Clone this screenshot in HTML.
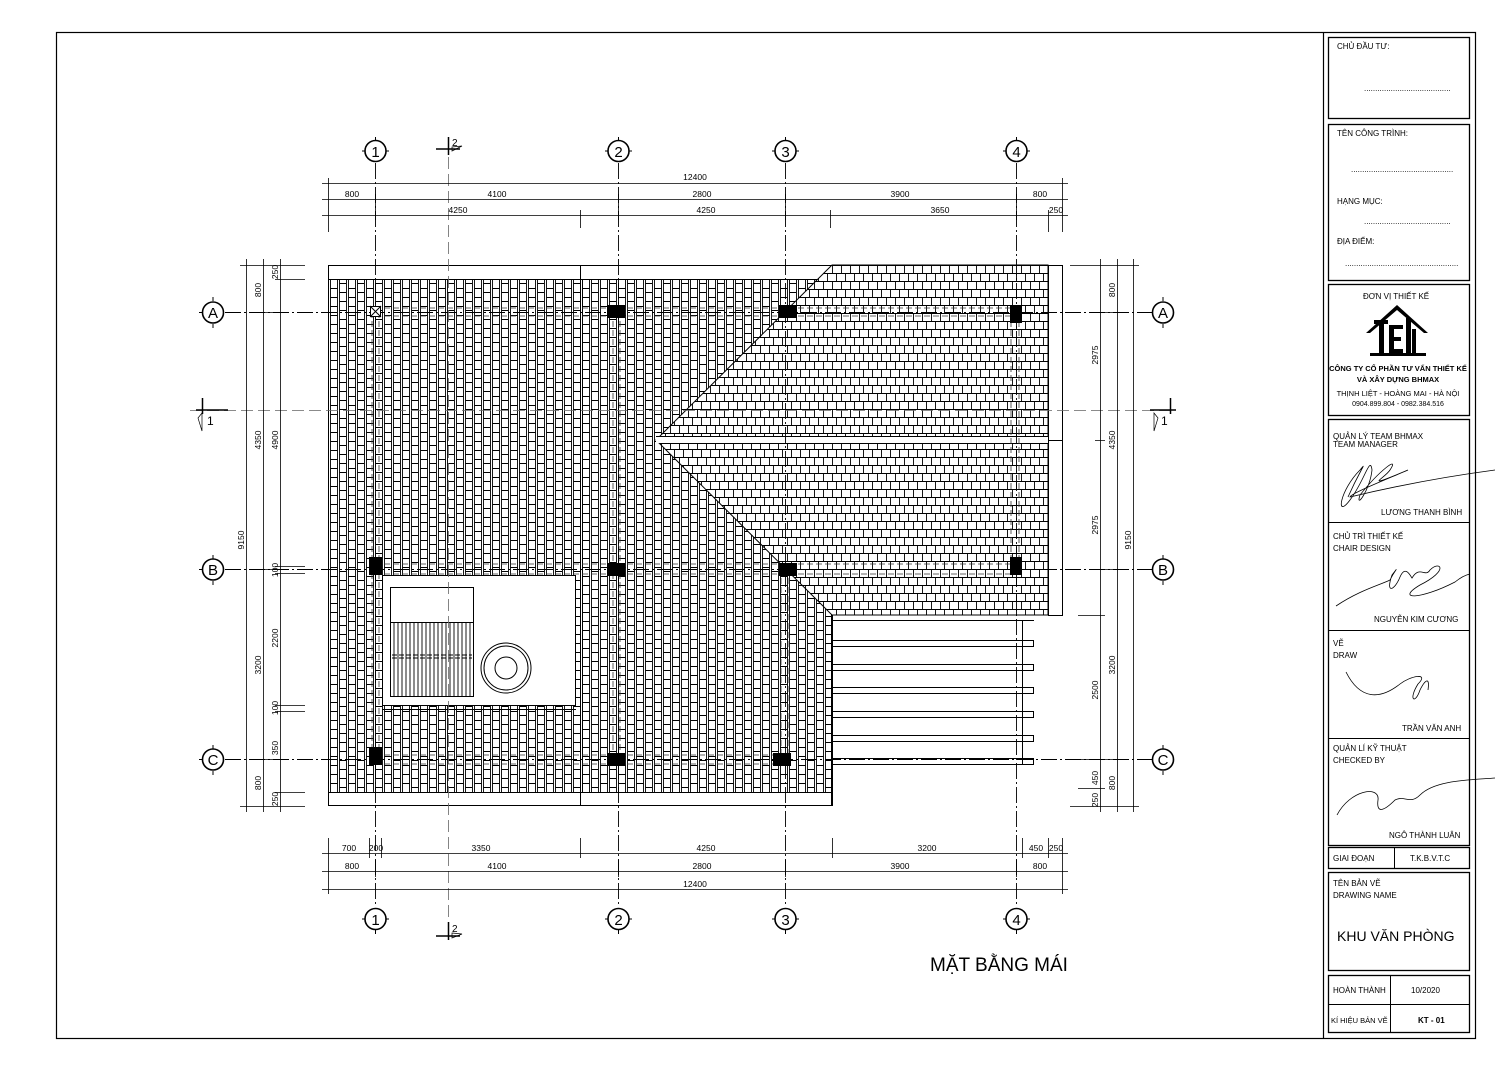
<!DOCTYPE html>
<html><head><meta charset="utf-8"><style>
body{margin:0;background:#fff}
svg{display:block}
text{font-family:"Liberation Sans",sans-serif;fill:#000}
.d{font-size:8.5px}
.tb{font-size:8px}
</style></head><body>
<svg width="1503" height="1073" viewBox="0 0 1503 1073" xmlns="http://www.w3.org/2000/svg">
<defs>
<pattern id="pv" width="18" height="18" patternUnits="userSpaceOnUse" x="328" y="279">
<rect width="18" height="18" fill="#fff"/>
<path d="M0.5 0V18M2.5 0V18M9.5 0V18M11.5 0V18M2.5 0.5H9.5M2.5 9.5H9.5M11.5 4.5H18M11.5 13.5H18" stroke="#000" stroke-width="0.9" fill="none"/>
</pattern>
<pattern id="ph" width="18" height="16" patternUnits="userSpaceOnUse" x="832" y="265">
<rect width="18" height="16" fill="#fff"/>
<path d="M0 0.5H18M0 8.5H18M0.5 0.5V8.5M9.5 0.5V8.5M4.5 8.5V16M13.5 8.5V16" stroke="#000" stroke-width="0.9" fill="none"/>
</pattern>
</defs>

<rect x="56.5" y="32.5" width="1419" height="1006" fill="none" stroke="#000" stroke-width="1.2"/>
<line x1="1323.5" y1="32" x2="1323.5" y2="1039" stroke="#000" stroke-width="1.2"/>

<rect x="328" y="279" width="504" height="513" fill="url(#pv)"/>
<rect x="328.5" y="265.5" width="503" height="540" fill="none" stroke="#000"/>
<line x1="328" y1="279.5" x2="832" y2="279.5" stroke="#000"/>
<line x1="328" y1="792.5" x2="832" y2="792.5" stroke="#000"/>
<line x1="580.5" y1="265" x2="580.5" y2="806" stroke="#000"/>
<line x1="582.5" y1="279" x2="582.5" y2="792" stroke="#000"/>
<rect x="382.5" y="575.5" width="193" height="130" fill="#fff" stroke="#000"/>
<line x1="382" y1="709.5" x2="576" y2="709.5" stroke="#000"/>
<rect x="390.5" y="587.5" width="83" height="35" fill="#fff" stroke="#000"/>
<rect x="390.5" y="622.5" width="83" height="74" fill="#fff" stroke="#000"/>
<g stroke="#000" stroke-width="0.9">
<path d="M394 623V696M398 623V696M402 623V696M406 623V696M410 623V696M414 623V696M418 623V696M422 623V696M426 623V696M430 623V696M434 623V696M438 623V696M442 623V696M446 623V696M450 623V696M454 623V696M458 623V696M462 623V696M466 623V696M470 623V696"/>
<path d="M392 655H472M392 658H472" stroke-dasharray="5 2"/>
</g>
<circle cx="506" cy="668" r="25" fill="none" stroke="#000"/>
<circle cx="506" cy="668" r="22" fill="none" stroke="#000"/>
<circle cx="506" cy="668" r="11" fill="none" stroke="#000"/>

<polygon points="832,265 1048,265 1048,615 832,615 656,440" fill="url(#ph)" stroke="#000"/>
<rect x="656" y="436" width="392" height="7" fill="#fff"/>
<line x1="656" y1="436.5" x2="1048" y2="436.5" stroke="#000"/>
<line x1="660" y1="443.5" x2="1048" y2="443.5" stroke="#000"/>
<rect x="1048.5" y="265.5" width="14" height="350" fill="#fff" stroke="#000"/>
<line x1="1048" y1="440.5" x2="1062" y2="440.5" stroke="#000"/>
<rect x="832" y="616" width="230" height="190" fill="#fff"/>
<line x1="832.5" y1="615" x2="832.5" y2="806" stroke="#000"/>
<line x1="832" y1="620.5" x2="1034" y2="620.5" stroke="#000"/>
<g fill="#fff" stroke="#000">
<rect x="832.5" y="640.5" width="201" height="6"/>
<rect x="832.5" y="664.5" width="201" height="6"/>
<rect x="832.5" y="687.5" width="201" height="6"/>
<rect x="832.5" y="711.5" width="201" height="6"/>
<rect x="832.5" y="735.5" width="201" height="6"/>
<rect x="832.5" y="758.5" width="201" height="6"/>
</g>
<line x1="1022.5" y1="620" x2="1022.5" y2="765" stroke="#000"/>

<g stroke="#000" stroke-width="0.9" stroke-dasharray="16 3 2 3" fill="none">
<path d="M375.5 163V907M618.5 163V907M785.5 163V907M1016.5 163V907"/>
<path d="M225 312.5H1151M225 569.5H1151M225 759.5H1151"/>
</g>
<g stroke="#666" stroke-width="0.8" stroke-dasharray="12 5" fill="none">
<path d="M448.5 140V940M190 410.5H1175"/>
</g>
<g stroke="#333" stroke-width="0.8" stroke-dasharray="6 3" fill="none">
<path d="M372 312V760M379 312V760M613 312V760M620 312V760M781 569V760M789 569V760M1011 312V569M1019 312V569"/>
<path d="M375 308H1016M375 316H1016M375 564H1016M375 574H1016M375 755H785M375 764H785"/>
</g>
<g fill="#000">
<rect x="607" y="305" width="18" height="13"/><rect x="779" y="305" width="18" height="13"/><rect x="1010" y="305" width="12" height="18"/>
<rect x="369" y="557" width="13" height="18"/><rect x="607" y="563" width="18" height="13"/><rect x="779" y="563" width="18" height="13"/><rect x="1010" y="557" width="12" height="18"/>
<rect x="369" y="747" width="13" height="18"/><rect x="607" y="753" width="18" height="13"/><rect x="773" y="753" width="18" height="13"/>
</g>
<rect x="370.5" y="306.5" width="10" height="10" fill="#fff" stroke="#000"/>
<path d="M370 306L381 317M381 306L370 317" stroke="#000"/>

<g stroke="#000" stroke-width="1.6" fill="#fff">
<circle cx="375.5" cy="151" r="10.5"/><circle cx="618.5" cy="151" r="10.5"/><circle cx="785.5" cy="151" r="10.5"/><circle cx="1016.5" cy="151" r="10.5"/>
<circle cx="375.5" cy="919" r="10.5"/><circle cx="618.5" cy="919" r="10.5"/><circle cx="785.5" cy="919" r="10.5"/><circle cx="1016.5" cy="919" r="10.5"/>
<circle cx="213" cy="312.5" r="10.5"/><circle cx="213" cy="569.5" r="10.5"/><circle cx="213" cy="759.5" r="10.5"/>
<circle cx="1163" cy="312.5" r="10.5"/><circle cx="1163" cy="569.5" r="10.5"/><circle cx="1163" cy="759.5" r="10.5"/>
</g>
<g stroke="#000" stroke-width="1">
<path d="M362 151h3M386 151h3M605 151h3M629 151h3M772 151h3M796 151h3M1003 151h3M1027 151h3"/>
<path d="M362 919h3M386 919h3M605 919h3M629 919h3M772 919h3M796 919h3M1003 919h3M1027 919h3"/>
<path d="M375.5 137v3M618.5 137v3M785.5 137v3M1016.5 137v3M375.5 930v4M618.5 930v4M785.5 930v4M1016.5 930v4"/>
<path d="M199 312.5h3M199 569.5h3M199 759.5h3M213 297v4M213 324v4M213 555v4M213 581v4M213 745v4M213 771v4"/>
<path d="M1149 312.5h3M1149 569.5h3M1149 759.5h3M1163 297v4M1163 324v4M1163 555v4M1163 581v4M1163 745v4M1163 771v4"/>
</g>
<g font-size="15" text-anchor="middle">
<text x="375.5" y="157">1</text><text x="618.5" y="157">2</text><text x="785.5" y="157">3</text><text x="1016.5" y="157">4</text>
<text x="375.5" y="925">1</text><text x="618.5" y="925">2</text><text x="785.5" y="925">3</text><text x="1016.5" y="925">4</text>
<text x="213" y="318">A</text><text x="213" y="575">B</text><text x="213" y="765">C</text>
<text x="1163" y="318">A</text><text x="1163" y="575">B</text><text x="1163" y="765">C</text>
</g>
<g stroke="#000" fill="none">
<path d="M436 149H460M448.5 137V155" stroke-width="1.5"/><path d="M452 147L462 146L452 151Z" stroke-width="0.7"/>
<path d="M436 936H460M448.5 922V940" stroke-width="1.5"/><path d="M452 933L462 934L452 938Z" stroke-width="0.7"/>
<path d="M196 410H228M202.5 398V414" stroke-width="1.5"/><path d="M198 418L202 413V431Z" stroke-width="0.7"/>
<path d="M1150 410H1176M1170.5 398V414" stroke-width="1.5"/><path d="M1158 418L1154 413V431Z" stroke-width="0.7"/>
</g>
<text x="452" y="146" font-size="10">2</text><text x="452" y="932" font-size="10">2</text>
<text x="207" y="425" font-size="12">1</text><text x="1161" y="425" font-size="12">1</text>

<g stroke="#000" stroke-width="0.8">
<path d="M322 183.5H1068M322 199.5H1068M322 215.5H1068"/>
<path d="M328.5 178V232M1062.5 178V232M580.5 210V228M830.5 210V228M1048.5 210V232M375.5 194V220M618.5 194V220M785.5 194V220M1016.5 194V220"/>
<path d="M322 853.5H1068M322 871.5H1068M322 889.5H1068"/>
<path d="M328.5 838V894M1062.5 838V894M369.5 838V858M381.5 838V858M580.5 838V858M832.5 838V858M1022.5 838V858M1048.5 838V858M375.5 860V877M618.5 860V877M785.5 860V877M1016.5 860V877"/>
<path d="M246.5 259V812M263.5 259V812M280.5 259V812"/>
<path d="M240 265.5H305M240 806.5H305M258 312.5H285M258 569.5H285M258 759.5H285M275 279.5H305M275 566.5H305M275 573.5H305M275 705.5H305M275 711.5H305M275 792.5H305"/>
<path d="M1100.5 259V812M1117.5 259V812M1133.5 259V812"/>
<path d="M1070 265.5H1139M1070 806.5H1139M1095 312.5H1122M1095 440.5H1105M1095 569.5H1122M1078 615.5H1105M1078 759.5H1122M1078 788.5H1105"/>
</g>
<g class="d" text-anchor="middle">
<text x="695" y="180">12400</text>
<text x="352" y="197">800</text><text x="497" y="197">4100</text><text x="702" y="197">2800</text><text x="900" y="197">3900</text><text x="1040" y="197">800</text>
<text x="458" y="213">4250</text><text x="706" y="213">4250</text><text x="940" y="213">3650</text><text x="1056" y="213">250</text>
<text x="349" y="851">700</text><text x="376" y="851">200</text><text x="481" y="851">3350</text><text x="706" y="851">4250</text><text x="927" y="851">3200</text><text x="1036" y="851">450</text><text x="1056" y="851">250</text>
<text x="352" y="869">800</text><text x="497" y="869">4100</text><text x="702" y="869">2800</text><text x="900" y="869">3900</text><text x="1040" y="869">800</text>
<text x="695" y="887">12400</text>
</g>
<g class="d" text-anchor="middle">
<text transform="translate(244,540) rotate(-90)">9150</text>
<text transform="translate(261,290) rotate(-90)">800</text>
<text transform="translate(261,440) rotate(-90)">4350</text>
<text transform="translate(261,665) rotate(-90)">3200</text>
<text transform="translate(261,783) rotate(-90)">800</text>
<text transform="translate(278,272) rotate(-90)">250</text>
<text transform="translate(278,440) rotate(-90)">4900</text>
<text transform="translate(278,570) rotate(-90)">100</text>
<text transform="translate(278,638) rotate(-90)">2200</text>
<text transform="translate(278,708) rotate(-90)">100</text>
<text transform="translate(278,748) rotate(-90)">350</text>
<text transform="translate(278,799) rotate(-90)">250</text>
<text transform="translate(1115,290) rotate(-90)">800</text>
<text transform="translate(1098,355) rotate(-90)">2975</text>
<text transform="translate(1115,440) rotate(-90)">4350</text>
<text transform="translate(1098,525) rotate(-90)">2975</text>
<text transform="translate(1131,540) rotate(-90)">9150</text>
<text transform="translate(1115,665) rotate(-90)">3200</text>
<text transform="translate(1098,690) rotate(-90)">2500</text>
<text transform="translate(1098,778) rotate(-90)">450</text>
<text transform="translate(1115,783) rotate(-90)">800</text>
<text transform="translate(1098,800) rotate(-90)">250</text>
</g>

<text x="930" y="971" font-size="19">MẶT BẰNG MÁI</text>

<g fill="none" stroke="#000" stroke-width="1.3">
<rect x="1328.5" y="37.5" width="141" height="81"/>
<rect x="1328.5" y="124.5" width="141" height="156"/>
<rect x="1328.5" y="284.5" width="141" height="131"/>
<rect x="1328.5" y="419.5" width="141" height="426"/>
<rect x="1328.5" y="847.5" width="141" height="21"/>
<rect x="1328.5" y="872.5" width="141" height="98"/>
<rect x="1328.5" y="975.5" width="141" height="57"/>
</g>
<g stroke="#000" stroke-width="1">
<path d="M1328 522.5H1470M1328 630.5H1470M1328 738.5H1470M1394.5 847V869M1390.5 975V1033M1328 1004.5H1470"/>
</g>
<g class="tb">
<text x="1337" y="49">CHỦ ĐẦU TƯ:</text>
<text x="1364" y="91">.......................................</text>
<text x="1337" y="136">TÊN CÔNG TRÌNH:</text>
<text x="1351" y="172">..............................................</text>
<text x="1337" y="204">HẠNG MỤC:</text>
<text x="1364" y="224">.......................................</text>
<text x="1337" y="244">ĐỊA ĐIỂM:</text>
<text x="1345" y="266">...................................................</text>
<text x="1363" y="299">ĐƠN VỊ THIẾT KẾ</text>
<text x="1333" y="439">QUẢN LÝ TEAM BHMAX</text>
<text x="1333" y="447">TEAM MANAGER</text>
<text x="1381" y="515">LƯƠNG THANH BÌNH</text>
<text x="1333" y="539">CHỦ TRÌ THIẾT KẾ</text>
<text x="1333" y="551">CHAIR DESIGN</text>
<text x="1374" y="622">NGUYỄN KIM CƯƠNG</text>
<text x="1333" y="646">VẼ</text>
<text x="1333" y="658">DRAW</text>
<text x="1402" y="731">TRẦN VĂN ANH</text>
<text x="1333" y="751">QUẢN LÍ KỸ THUẬT</text>
<text x="1333" y="763">CHECKED BY</text>
<text x="1389" y="838">NGÔ THÀNH LUÂN</text>
<text x="1333" y="861">GIAI ĐOẠN</text>
<text x="1410" y="861">T.K.B.V.T.C</text>
<text x="1333" y="886">TÊN BẢN VẼ</text>
<text x="1333" y="898">DRAWING NAME</text>
<text x="1333" y="993">HOÀN THÀNH</text>
<text x="1411" y="993">10/2020</text>
<text x="1331" y="1023" font-size="7.5">KÍ HIỆU BẢN VẼ</text>
<text x="1418" y="1023" font-weight="bold">KT - 01</text>
</g>
<text x="1337" y="941" font-size="14">KHU VĂN PHÒNG</text>
<text x="1398" y="371" font-size="7.5" font-weight="bold" text-anchor="middle">CÔNG TY CỔ PHẦN TƯ VẤN THIẾT KẾ</text>
<text x="1398" y="382" font-size="7.5" font-weight="bold" text-anchor="middle">VÀ XÂY DỰNG BHMAX</text>
<text x="1398" y="396" font-size="7.5" text-anchor="middle">THỊNH LIỆT - HOÀNG MAI - HÀ NỘI</text>
<text x="1398" y="406" font-size="7" text-anchor="middle">0904.899.804 - 0982.384.516</text>
<g fill="#000">
<path d="M1366 333L1397 305L1428 333L1424 333L1397 310L1370 333Z"/>
<rect x="1374" y="320" width="14" height="4"/><rect x="1379" y="320" width="5" height="33"/>
<rect x="1389" y="325" width="5" height="28"/><rect x="1389" y="325" width="14" height="4"/><rect x="1389" y="337" width="12" height="4"/><rect x="1389" y="349" width="14" height="4"/>
<rect x="1406" y="318" width="5" height="35"/><rect x="1412" y="329" width="4" height="24"/>
<rect x="1370" y="353" width="56" height="3"/>
</g>
<g fill="none" stroke="#000" stroke-width="0.8">
<path d="M1348 497C1360 470,1368 460,1360 470C1340 490,1335 520,1350 500C1365 480,1370 455,1372 470C1370 490,1355 510,1360 495C1380 470,1400 455,1390 470C1385 478,1360 490,1408 470C1380 482,1350 494,1350 497C1400 485,1450 476,1495 470"/>
<path d="M1336 606C1360 590,1380 585,1390 580C1395 570,1400 565,1392 575C1385 595,1395 590,1400 577C1405 565,1410 575,1412 578C1420 565,1425 578,1430 570C1440 560,1450 570,1420 585C1395 600,1420 600,1455 582C1460 578,1465 575,1470 574"/>
<path d="M1346 672C1360 700,1380 700,1400 684C1410 676,1430 672,1418 684C1408 700,1415 705,1420 690C1425 680,1430 676,1428 690"/>
<path d="M1337 815C1350 790,1380 785,1378 800C1376 815,1385 810,1395 800C1405 795,1410 805,1420 795C1435 780,1470 780,1495 778"/>
</g>
</svg>
</body></html>
